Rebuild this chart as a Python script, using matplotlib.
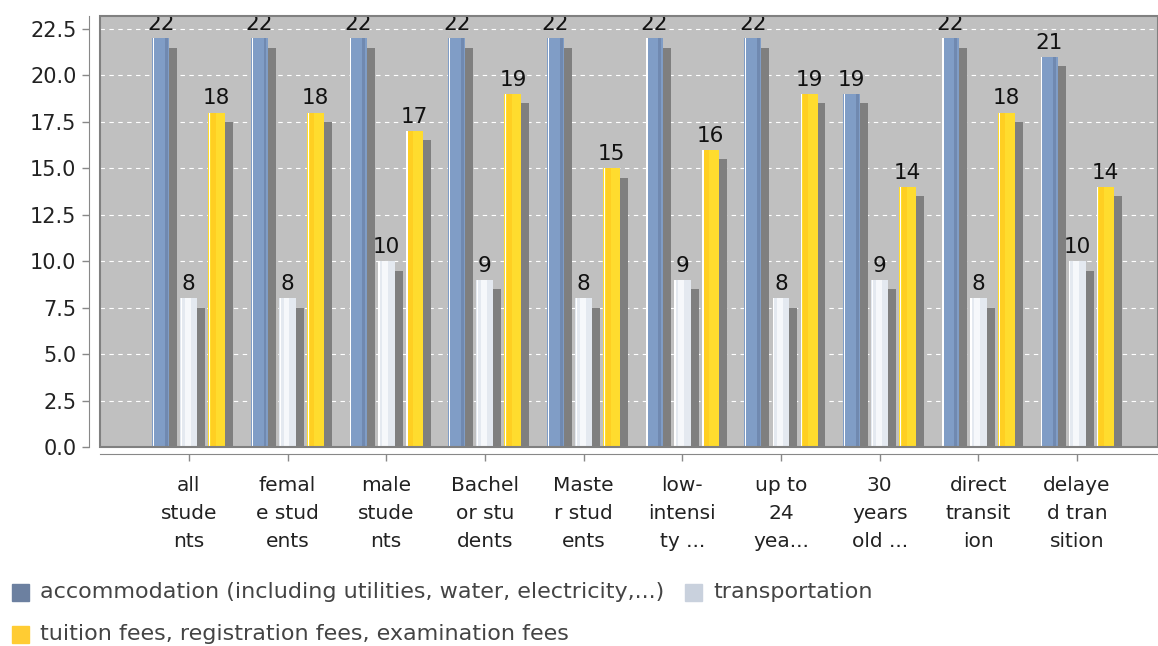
import numpy as np
import matplotlib.pyplot as plt
import matplotlib.transforms as mtransforms
from matplotlib.patches import Rectangle

# data
categories = ["all\nstude\nnts", "femal\ne stud\nents", "male\nstude\nnts",
              "Bachel\nor stu\ndents", "Maste\nr stud\nents", "low-\nintensi\nty ...",
              "up to\n24\nyea...", "30\nyears\nold ...", "direct\ntransit\nion",
              "delaye\nd tran\nsition"]
series_names = ["accommodation (including utilities, water, electricity,...)",
                "transportation",
                "tuition fees, registration fees, examination fees"]
accommodation = [22, 22, 22, 22, 22, 22, 22, 19, 22, 21]
transportation = [8, 8, 10, 9, 8, 9, 8, 9, 8, 10]
tuition = [18, 18, 17, 19, 15, 16, 19, 14, 18, 14]
yticks = [0.0, 2.5, 5.0, 7.5, 10.0, 12.5, 15.0, 17.5, 20.0, 22.5]

bar_colors = ["#809dc6", "#e4e9f0", "#ffdc2e"]
legend_colors = ["#6c80a0", "#c9d1dd", "#ffcc33"]
bg = "#c0c0c0"
shadow = "#7f7f7f"

fig = plt.figure(figsize=(11.58, 6.46), dpi=100)
ax = fig.add_axes([100 / 1158, 1 - 447 / 646, 1 - 100 / 1158, (447 - 16) / 646])
ax.set_facecolor(bg)

x = np.arange(len(categories))
w = 0.172
step = 0.284
offs = [-step, 0, step]
sdx = 0.081
sdy = 0.5

for k, vals in enumerate([accommodation, transportation, tuition]):
    xs = x + offs[k]
    # shadow
    ax.bar(xs + sdx, vals, width=w, bottom=-sdy, color=shadow, zorder=2, linewidth=0)
    ax.bar(xs, vals, width=w, color=bar_colors[k], zorder=3, linewidth=0)
    # light edge on the left
    ax.bar(xs - w / 2 + 0.012, vals, width=0.012, color="white", zorder=4, linewidth=0)
    if k == 0:
        ax.bar(xs + w / 2 - 0.03, vals, width=0.03, color="#7089b0", zorder=4, linewidth=0)
    if k == 1:
        ax.bar(xs - 0.01, vals, width=0.06, color="#f6f8fb", zorder=4, linewidth=0)
    if k == 2:
        ax.bar(xs - w / 2 + 0.05, vals, width=0.05, color="#ffcf22", zorder=4, linewidth=0)
    for xi, v in zip(xs, vals):
        t = ax.annotate(str(v), (xi, v), xytext=(0, 3), textcoords="offset points",
                        ha="center", va="bottom", fontsize=15.5, color="#111111",
                        zorder=5, annotation_clip=False)
        t.set_clip_path(ax.patch)

ax.set_xlim(-0.90, 9.82)
ax.set_ylim(0, 23.2)
ax.yaxis.grid(True, color="white", linestyle=(0, (4, 4)), linewidth=0.8)
ax.set_axisbelow(True)

ax.tick_params(axis="y", labelsize=15, labelcolor="#222222", length=5, width=1, pad=4,
               color="#888888")
ax.tick_params(axis="x", length=5, width=1, color="#888888", labelbottom=False)
ax.set_yticks(yticks)
ax.set_yticklabels(["%.1f" % t for t in yticks])
ax.set_xticks(x)

# category labels, three wrapped lines each
trans = mtransforms.offset_copy(ax.get_xaxis_transform(), fig=fig, x=0, y=-29, units="dots")
for xi, lab in zip(x, categories):
    ax.text(xi, 0, lab, transform=trans, ha="center", va="top", fontsize=14.5,
            color="#222222", linespacing=1.6, clip_on=False)

for s in ["top", "right"]:
    ax.spines[s].set_visible(False)
ax.spines["left"].set_position(("outward", 8))
ax.spines["bottom"].set_position(("outward", 5))
ax.spines["left"].set_color("#888888")
ax.spines["bottom"].set_color("#888888")
ax.spines["left"].set_bounds(0, 23.2)

# plot area border
ax.add_patch(Rectangle((0, 0), 1, 1, transform=ax.transAxes, fill=False,
                       edgecolor="#808080", linewidth=1.5, zorder=6, clip_on=False))

# legend
leg_items = [(12, 592, 0), (685, 592, 1), (12, 634, 2)]
for lx, ly, k in leg_items:
    fig.patches.append(Rectangle((lx / 1158, 1 - (ly + 9) / 646), 17 / 1158, 17 / 646,
                                 transform=fig.transFigure, color=legend_colors[k]))
    fig.text((lx + 28) / 1158, 1 - ly / 646, series_names[k], fontsize=16,
             color="#444444", va="center", ha="left")

fig.savefig("out.png", dpi=100)
